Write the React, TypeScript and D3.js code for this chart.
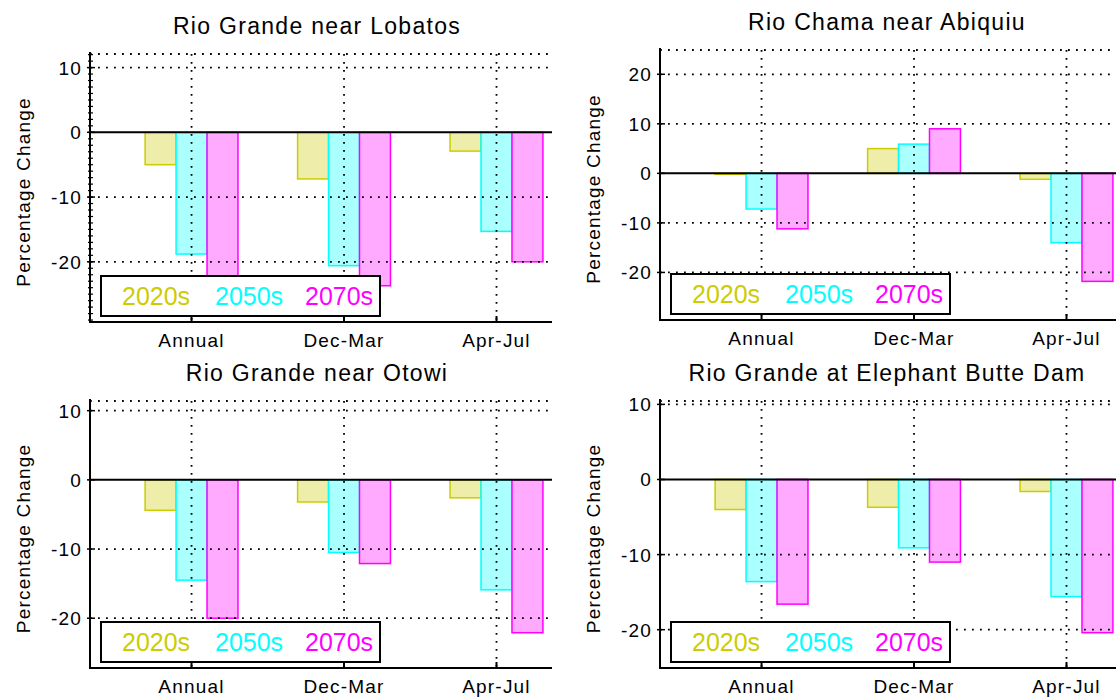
import * as d3 from "d3";

// categories and series
const categories = ["Annual", "Dec-Mar", "Apr-Jul"];
const periods = ["2020s", "2050s", "2070s"];

// percentage change, one row per period (2020s, 2050s, 2070s), columns follow categories
const lobatosChange = [[-5.0, -7.2, -2.9], [-18.8, -20.6, -15.3], [-24.0, -23.7, -20.0]];
const abiquiuChange = [[-0.2, 5.0, -1.2], [-7.2, 5.9, -14.0], [-11.2, 9.0, -21.8]];
const otowiChange = [[-4.4, -3.2, -2.6], [-14.5, -10.5, -15.9], [-20.0, -12.1, -22.1]];
const elephantButteChange = [[-4.0, -3.7, -1.6], [-13.6, -9.1, -15.6], [-16.6, -11.0, -20.4]];

const yTicksLobatos = [10, 0, -10, -20];
const yTicksAbiquiu = [20, 10, 0, -10, -20];
const yTicksOtowi = [10, 0, -10, -20];
const yTicksElephant = [10, 0, -10, -20];

const titles = ["Rio Grande near Lobatos", "Rio Chama near Abiquiu", "Rio Grande near Otowi", "Rio Grande at Elephant Butte Dam"];

const FILL = ["#eeeeaa", "#aaffff", "#ffaaff"];
const EDGE = ["#cccc00", "#00ffff", "#ff00ff"];
const TEXTC = ["#cccc00", "#00ffff", "#ff00ff"];
const FONT = "'Liberation Sans', Arial, sans-serif";

type PanelProps = {
  title: string;
  values: number[][];
  yTicks: number[];
  left: number;
  top: number;
  bottom: number;
  yMin: number;
  yMax: number;
  minor?: boolean;
};

function Panel(p: PanelProps) {
  const width = 462;
  const right = p.left + width;
  const x = d3.scaleLinear().domain([0.334, 3.364]).range([p.left, right]);
  const y = d3.scaleLinear().domain([p.yMin, p.yMax]).range([p.bottom, p.top]);
  const bw = 0.203;
  const dot = { stroke: "#000", strokeWidth: 1.8, strokeDasharray: "1.8 6.2", fill: "none" };

  const bars: any[] = [];
  p.values.forEach((row, s) => {
    row.forEach((v, i) => {
      const cx = i + 1 + (s - 1) * bw;
      const x0 = x(cx - bw / 2);
      const x1 = x(cx + bw / 2);
      const y0 = Math.min(y(v), y(0));
      const h = Math.abs(y(v) - y(0));
      bars.push(
        <rect key={s + "-" + i} x={x0} y={y0} width={x1 - x0} height={h}
          fill={FILL[s]} stroke={EDGE[s]} strokeWidth={1.5} />
      );
    });
  });

  const minorTicks = p.minor ? d3.range(Math.ceil(p.yMin), Math.floor(p.yMax) + 1) : [];
  const lx = p.left + 11;
  const ly = p.bottom - 46;
  const legendOffsets = [21, 114, 204];

  return (
    <g>
      <text x={p.left + width / 2 - 4} y={p.top - 20} textAnchor="middle" fontFamily={FONT}
        fontSize={23} letterSpacing={1.3}>{p.title}</text>
      <text transform={`translate(${p.left - 60},${(p.top + p.bottom) / 2 + 4}) rotate(-90)`}
        textAnchor="middle" fontFamily={FONT} fontSize={19} letterSpacing={1.2}>Percentage Change</text>
      {bars}
      {/* grid on top of bars */}
      <line x1={p.left} x2={right} y1={p.top} y2={p.top} {...dot} />
      {p.yTicks.filter((t) => t !== 0).map((t) => (
        <line key={"g" + t} x1={p.left} x2={right} y1={y(t)} y2={y(t)} {...dot} />
      ))}
      {categories.map((c, i) => (
        <line key={"v" + c} x1={x(i + 1)} x2={x(i + 1)} y1={p.top} y2={p.bottom} {...dot} />
      ))}
      <line x1={p.left} x2={right} y1={y(0)} y2={y(0)} stroke="#000" strokeWidth={2} />
      {/* axes */}
      <line x1={p.left} x2={p.left} y1={p.top - 2} y2={p.bottom + 1} stroke="#000" strokeWidth={2} />
      <line x1={p.left - 1} x2={right} y1={p.bottom} y2={p.bottom} stroke="#000" strokeWidth={2} />
      {minorTicks.map((t) => (
        <line key={"m" + t} x1={p.left - 2} x2={p.left + 3} y1={y(t)} y2={y(t)} stroke="#000" strokeWidth={1.2} />
      ))}
      {p.yTicks.map((t) => (
        <g key={"t" + t}>
          <line x1={p.left - 3} x2={p.left + 5} y1={y(t)} y2={y(t)} stroke="#000" strokeWidth={1.5} />
          <text x={p.left - 8} y={y(t) + 7} textAnchor="end" fontFamily={FONT} fontSize={19}
            letterSpacing={1.2}>{t}</text>
        </g>
      ))}
      {categories.map((c, i) => (
        <g key={"x" + c}>
          <line x1={x(i + 1)} x2={x(i + 1)} y1={p.bottom} y2={p.bottom - 6} stroke="#000" strokeWidth={2} />
          <text x={x(i + 1)} y={p.bottom + 25} textAnchor="middle" fontFamily={FONT} fontSize={19}
            letterSpacing={1.2}>{c}</text>
        </g>
      ))}
      {/* legend */}
      <rect x={lx} y={ly} width={279} height={40} fill="#fff" stroke="#000" strokeWidth={2} />
      {periods.map((name, s) => (
        <text key={name} x={lx + legendOffsets[s]} y={ly + 29} fill={TEXTC[s]} fontFamily={FONT}
          fontSize={25}>{name}</text>
      ))}
    </g>
  );
}

export default function App() {
  return (
    <svg width={1116} height={698} style={{ position: "absolute", left: 0, top: 0, background: "#fff" }}>
      <Panel title={titles[0]} values={lobatosChange} yTicks={yTicksLobatos}
        left={90} top={54} bottom={322} yMin={-29.3} yMax={12.1} minor />
      <Panel title={titles[1]} values={abiquiuChange} yTicks={yTicksAbiquiu}
        left={660} top={50} bottom={320} yMin={-29.6} yMax={24.9} />
      <Panel title={titles[2]} values={otowiChange} yTicks={yTicksOtowi}
        left={90} top={401} bottom={668} yMin={-27.2} yMax={11.4} />
      <Panel title={titles[3]} values={elephantButteChange} yTicks={yTicksElephant}
        left={660} top={401} bottom={668} yMin={-25.1} yMax={10.45} />
    </svg>
  );
}
